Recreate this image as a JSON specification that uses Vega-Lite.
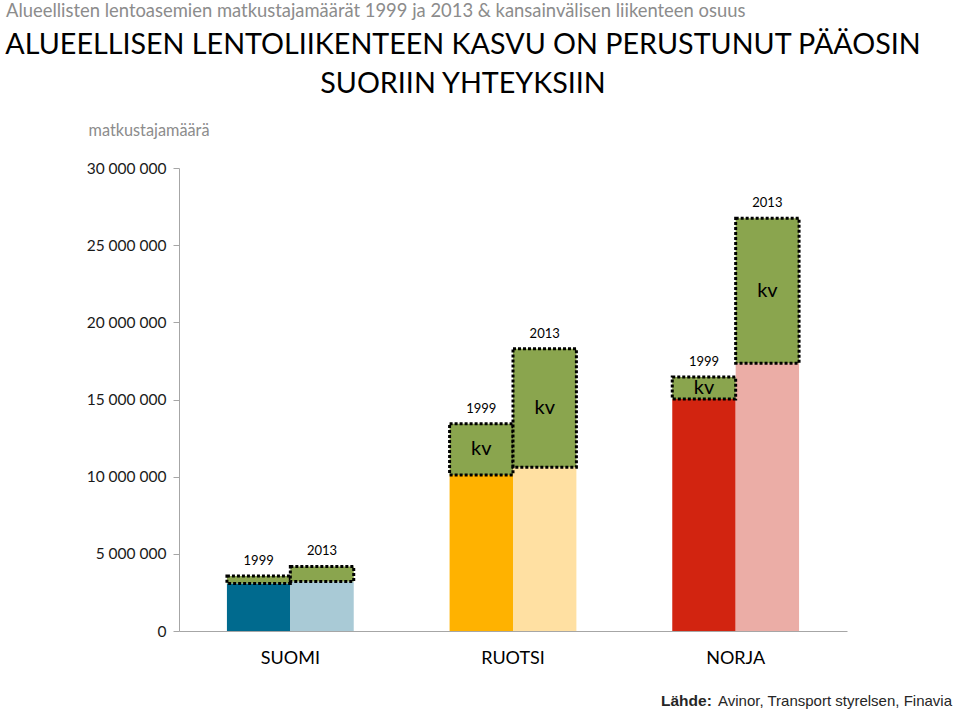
{
  "$schema": "https://vega.github.io/schema/vega-lite/v6.json",
  "autosize": "none",
  "width": 668,
  "height": 463,
  "padding": {"left": 179, "top": 168, "right": 113, "bottom": 80},
  "background": "white",
  "config": {
    "view": {"stroke": null},
    "font": "Lato",
    "axis": {"labelFont": "Lato", "titleFont": "Lato"}
  },
  "layer": [
    {
      "data": {
        "values": [
          {"maa": "SUOMI", "vuosi": "1999", "sarja": "SUOMI 1999", "kotimaa": 3080000, "yhteensa": 3560000, "merkinta": ""},
          {"maa": "SUOMI", "vuosi": "2013", "sarja": "SUOMI 2013", "kotimaa": 3200000, "yhteensa": 4180000, "merkinta": ""},
          {"maa": "RUOTSI", "vuosi": "1999", "sarja": "RUOTSI 1999", "kotimaa": 10110000, "yhteensa": 13430000, "merkinta": "kv"},
          {"maa": "RUOTSI", "vuosi": "2013", "sarja": "RUOTSI 2013", "kotimaa": 10610000, "yhteensa": 18290000, "merkinta": "kv"},
          {"maa": "NORJA", "vuosi": "1999", "sarja": "NORJA 1999", "kotimaa": 15040000, "yhteensa": 16450000, "merkinta": "kv"},
          {"maa": "NORJA", "vuosi": "2013", "sarja": "NORJA 2013", "kotimaa": 17350000, "yhteensa": 26750000, "merkinta": "kv"}
        ]
      },
      "encoding": {
        "x": {
          "field": "maa",
          "type": "nominal",
          "sort": ["SUOMI", "RUOTSI", "NORJA"],
          "scale": {"paddingInner": 0, "paddingOuter": 0},
          "title": null,
          "axis": {
            "labelAngle": 0,
            "ticks": false,
            "domainColor": "#A6A6A6",
            "domainWidth": 1,
            "labelFontSize": 18,
            "labelColor": "#000000",
            "labelPadding": 18
          }
        },
        "xOffset": {
          "field": "vuosi",
          "type": "nominal",
          "sort": ["1999", "2013"],
          "scale": {"paddingInner": 0, "paddingOuter": 0.756}
        }
      },
      "layer": [
        {
          "mark": {"type": "bar"},
          "encoding": {
            "y": {
              "field": "kotimaa",
              "type": "quantitative",
              "stack": null,
              "scale": {"domain": [0, 30000000], "nice": false},
              "title": "matkustajamäärä",
              "axis": {
                "values": [0, 5000000, 10000000, 15000000, 20000000, 25000000, 30000000],
                "labelExpr": "replace(replace(format(datum.value, ','), ',', ' '), ',', ' ')",
                "grid": false,
                "domainColor": "#A6A6A6",
                "tickColor": "#A6A6A6",
                "tickSize": 6,
                "labelPadding": 7,
                "labelFontSize": 15.5,
                "labelColor": "#1a1a1a",
                "titleAngle": 0,
                "titleAlign": "left",
                "titleBaseline": "alphabetic",
                "titleX": -91,
                "titleY": -33,
                "titleFontSize": 16.3,
                "titleFontWeight": "normal",
                "titleColor": "#8C8C8C"
              }
            },
            "color": {
              "field": "sarja",
              "type": "nominal",
              "scale": {
                "domain": ["SUOMI 1999", "SUOMI 2013", "RUOTSI 1999", "RUOTSI 2013", "NORJA 1999", "NORJA 2013"],
                "range": ["#006A8E", "#A9CAD6", "#FFB200", "#FFE0A2", "#D22410", "#EBADA6"]
              },
              "legend": null
            }
          }
        },
        {
          "mark": {"type": "bar", "fill": "#8AA54E", "stroke": "#000000", "strokeWidth": 3, "strokeDash": [3, 2]},
          "encoding": {
            "y": {"field": "kotimaa", "type": "quantitative"},
            "y2": {"field": "yhteensa"}
          }
        },
        {
          "mark": {"type": "text", "baseline": "middle", "dy": -15, "fontSize": 13, "color": "#000000"},
          "encoding": {
            "y": {"field": "yhteensa", "type": "quantitative"},
            "text": {"field": "vuosi"}
          }
        },
        {
          "transform": [
            {"filter": "datum.merkinta != ''"},
            {"calculate": "(datum.kotimaa + datum.yhteensa) / 2", "as": "keski"}
          ],
          "mark": {"type": "text", "baseline": "middle", "fontSize": 20, "color": "#000000"},
          "encoding": {
            "y": {"field": "keski", "type": "quantitative"},
            "text": {"field": "merkinta"}
          }
        }
      ]
    },
    {
      "data": {"values": [{"t": "ALUEELLISEN LENTOLIIKENTEEN KASVU ON PERUSTUNUT PÄÄOSIN\nSUORIIN YHTEYKSIIN"}]},
      "mark": {"type": "text", "align": "center", "baseline": "alphabetic", "fontSize": 28.7, "lineBreak": "\n", "lineHeight": 39, "color": "#000000"},
      "encoding": {
        "x": {"value": 284},
        "y": {"value": -114},
        "text": {"field": "t"}
      }
    },
    {
      "data": {"values": [{"t": "Alueellisten lentoasemien matkustajamäärät 1999 ja 2013 & kansainvälisen liikenteen osuus"}]},
      "mark": {"type": "text", "align": "left", "baseline": "middle", "fontSize": 18.4, "color": "#8C8C8C"},
      "encoding": {
        "x": {"value": -173},
        "y": {"value": -157},
        "text": {"field": "t"}
      }
    },
    {
      "data": {"values": [{"t": "Lähde:"}]},
      "mark": {"type": "text", "align": "left", "baseline": "alphabetic", "fontSize": 15.5, "fontWeight": "bold", "font": "Liberation Sans", "color": "#262626"},
      "encoding": {
        "x": {"value": 482},
        "y": {"value": 538},
        "text": {"field": "t"}
      }
    },
    {
      "data": {"values": [{"t": "Avinor, Transport styrelsen, Finavia"}]},
      "mark": {"type": "text", "align": "left", "baseline": "alphabetic", "fontSize": 15, "font": "Liberation Sans", "color": "#262626"},
      "encoding": {
        "x": {"value": 539},
        "y": {"value": 538},
        "text": {"field": "t"}
      }
    }
  ]
}
